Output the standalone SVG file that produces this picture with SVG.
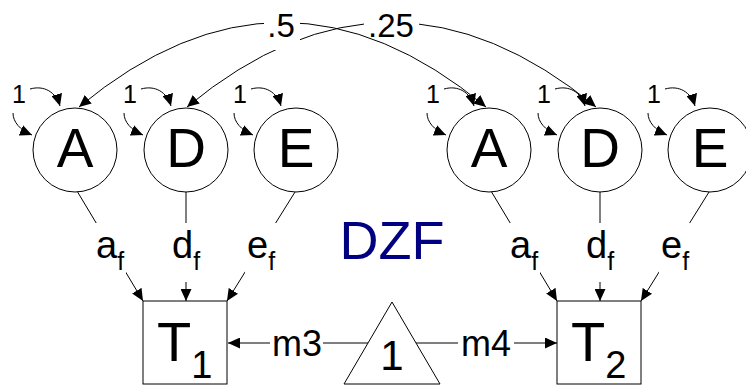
<svg xmlns="http://www.w3.org/2000/svg" width="746" height="386" viewBox="0 0 746 386">
<defs>
<marker id="ah" viewBox="0 0 12 11" refX="12" refY="5.5" markerWidth="12" markerHeight="11" markerUnits="userSpaceOnUse" orient="auto-start-reverse"><path d="M0,0 L12,5.5 L0,11 z" fill="#000"/></marker>
<style>
text{font-family:"Liberation Sans",Arial,sans-serif;fill:#000}
.c{fill:#fff;stroke:#000;stroke-width:1}
.a{fill:none;stroke:#000;stroke-width:1;marker-end:url(#ah)}
.a2{fill:none;stroke:#000;stroke-width:1;marker-end:url(#ah);marker-start:url(#ah)}
.bg{fill:#fff;stroke:none}
.big{font-size:55px;text-anchor:middle}
.one{font-size:25px;text-anchor:middle}
.ld{font-size:38px}
.sub{font-size:25px}
.m{font-size:36px;text-anchor:middle}
.k{font-size:33px;text-anchor:middle}
</style>
</defs>
<rect width="746" height="386" fill="#fff"/>
<g id="connectors">
  <!-- .25 arc -->
  <path class="a2" d="M187,107 Q391,-62 596,107"/>
  <rect class="bg" x="364" y="10" width="55" height="28"/>
  <text class="k" x="391" y="37">.25</text>
  <!-- .5 arc -->
  <path class="a2" d="M79,107 Q282.5,-62 486,107"/>
  <rect class="bg" x="264" y="10" width="36" height="40"/>
  <text class="k" x="281" y="37">.5</text>
  <!-- variance loops -->
  <g id="loopA1"><path class="a" d="M13,113 C13,122 20,130 32,135"/><path class="a" d="M30,89 C44,85 56,92 60,106"/><text class="one" x="19" y="103">1</text></g>
  <g id="loopD1"><path class="a" d="M124,113 C124,122 131,130 143,135"/><path class="a" d="M141,89 C155,85 167,92 171,106"/><text class="one" x="130" y="103">1</text></g>
  <g id="loopE1"><path class="a" d="M234,113 C234,122 241,130 253,135"/><path class="a" d="M251,89 C265,85 277,92 281,106"/><text class="one" x="240" y="103">1</text></g>
  <g id="loopA2"><path class="a" d="M427,113 C427,122 434,130 446,135"/><path class="a" d="M444,89 C458,85 470,92 474,106"/><text class="one" x="433" y="103">1</text></g>
  <g id="loopD2"><path class="a" d="M538,113 C538,122 545,130 557,135"/><path class="a" d="M555,89 C569,85 581,92 585,106"/><text class="one" x="544" y="103">1</text></g>
  <g id="loopE2"><path class="a" d="M648,113 C648,122 655,130 667,135"/><path class="a" d="M665,89 C679,85 691,92 695,106"/><text class="one" x="654" y="103">1</text></g>
  <!-- loadings twin 1 -->
  <path class="a" d="M77,191 L143,301"/>
  <rect class="bg" x="92" y="223" width="34" height="58"/>
  <text class="ld" x="96" y="258">a<tspan class="sub" dy="12">f</tspan></text>
  <path class="a" d="M186,192 L186,301"/>
  <rect class="bg" x="170" y="223" width="32" height="59"/>
  <text class="ld" x="172" y="258">d<tspan class="sub" dy="12">f</tspan></text>
  <path class="a" d="M295,192 L227,301"/>
  <rect class="bg" x="245" y="223" width="34" height="58"/>
  <text class="ld" x="247" y="258">e<tspan class="sub" dy="12">f</tspan></text>
  <!-- loadings twin 2 -->
  <path class="a" d="M491,191 L557,301"/>
  <rect class="bg" x="506" y="223" width="34" height="58"/>
  <text class="ld" x="510" y="258">a<tspan class="sub" dy="12">f</tspan></text>
  <path class="a" d="M600,192 L600,301"/>
  <rect class="bg" x="584" y="223" width="32" height="59"/>
  <text class="ld" x="586" y="258">d<tspan class="sub" dy="12">f</tspan></text>
  <path class="a" d="M709,192 L641,301"/>
  <rect class="bg" x="659" y="223" width="34" height="58"/>
  <text class="ld" x="661" y="258">e<tspan class="sub" dy="12">f</tspan></text>
  <!-- means -->
  <path class="a" d="M368,343 L228,343"/>
  <rect class="bg" x="270" y="325" width="53" height="37"/>
  <text class="m" x="297" y="356">m3</text>
  <path class="a" d="M416,343 L557,343"/>
  <rect class="bg" x="458" y="325" width="56" height="37"/>
  <text class="m" x="486" y="356">m4</text>
</g>
<g id="A1"><circle class="c" cx="75" cy="150" r="42"/><text class="big" x="75" y="167">A</text></g>
<g id="D1"><circle class="c" cx="186" cy="150" r="42"/><text class="big" x="186" y="167">D</text></g>
<g id="E1"><circle class="c" cx="296" cy="150" r="42"/><text class="big" x="296" y="167">E</text></g>
<g id="A2"><circle class="c" cx="489" cy="150" r="42"/><text class="big" x="489" y="167">A</text></g>
<g id="D2"><circle class="c" cx="600" cy="150" r="42"/><text class="big" x="600" y="167">D</text></g>
<g id="E2"><circle class="c" cx="710" cy="150" r="42"/><text class="big" x="710" y="167">E</text></g>
<g id="T1"><rect class="c" x="143" y="301" width="84" height="83"/><text x="157" y="361" font-size="56">T<tspan font-size="38" dy="17">1</tspan></text></g>
<g id="T2"><rect class="c" x="557" y="301" width="84" height="83"/><text x="571" y="361" font-size="56">T<tspan font-size="38" dy="17">2</tspan></text></g>
<g id="mean"><path class="c" d="M344,384 L392,302 L440,384 Z"/><text x="392" y="370" font-size="42" text-anchor="middle">1</text></g>
<g id="title"><text x="392" y="259" font-size="54" text-anchor="middle" style="fill:#000080">DZF</text></g>
</svg>
